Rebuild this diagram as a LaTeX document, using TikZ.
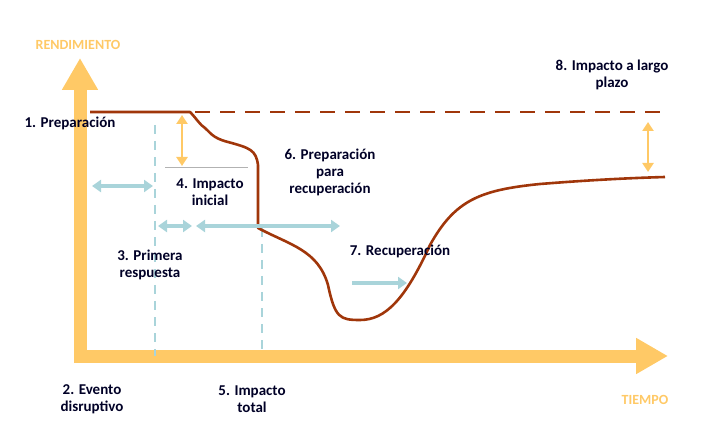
\documentclass[tikz,border=0pt]{standalone}
\usepackage{fontspec}
\setmainfont{Carlito}
\usetikzlibrary{arrows.meta}

\definecolor{axisorange}{HTML}{FFC966}
\definecolor{curvebrown}{HTML}{A0360A}
\definecolor{paleblue}{HTML}{A9D4DA}

\tikzset{
  label/.style={font=\bfseries\fontsize{15}{17}\selectfont, align=center, text=black!85!blue, inner sep=1pt},
  axislabel/.style={font=\bfseries\fontsize{14}{16}\selectfont, text=axisorange},
  phase/.style={paleblue, line width=4pt, {Triangle[length=9pt,width=12pt]}-{Triangle[length=9pt,width=12pt]}},
  phaseone/.style={paleblue, line width=4pt, -{Triangle[length=9pt,width=12pt]}},
  gap/.style={axisorange, line width=2.5pt, {Triangle[length=9pt,width=11pt]}-{Triangle[length=9pt,width=11pt]}},
  guide/.style={paleblue, line width=2pt, dash pattern=on 9pt off 7pt}
}

\begin{document}
\begin{tikzpicture}[x=1pt,y=-1pt]
\useasboundingbox (0,0) rectangle (714,443);
% axes
\coordinate (ytop) at (80,58);
\coordinate (xend) at (668,356);
\draw[axisorange, line width=13pt, -{Triangle[length=32pt,width=34pt]}] (80,363) -- (ytop);
\draw[axisorange, line width=13pt, -{Triangle[length=32pt,width=34pt]}] (74,356) -- (xend);
\node[axislabel] (rend) at (78,45) {RENDIMIENTO};
\node[axislabel] (tiempo) at (645,400) {TIEMPO};
% guides
\draw[guide] (155,125) -- (155,356);
\draw[guide] (262,228) -- (262,356);
% performance curve
\draw[curvebrown, line width=2.6pt, dash pattern=on 15pt off 10pt] (195,112) -- (665,112);
\draw[curvebrown, line width=2.6pt, line join=round] (90,112) -- (190,112)
  .. controls (196,118) and (200,125) .. (205,128)
  .. controls (210,132) and (212,138) .. (228,142)
  .. controls (250,148) and (256,150) .. (258,165)
  -- (258,228)
  .. controls (290,245) and (318,250) .. (328,285)
  .. controls (335,318) and (340,320) .. (360,320)
  .. controls (385,320) and (405,300) .. (430,245)
  .. controls (455,200) and (480,190) .. (540,184)
  .. controls (590,180) and (630,178) .. (665,177);
% gaps
\draw[black!30, line width=0.5pt] (165,167) -- (248,167);
\draw[gap] (182,115) -- (182,166);
\draw[gap] (648,122) -- (648,172);
% phase arrows
\draw[phase] (92,186) -- (153,186);
\draw[phase] (158,226) -- (192,226);
\draw[phase] (196,226) -- (340,226);
\draw[phaseone] (352,283) -- (407,283);
% labels
\node[label] (prep) at (70,123) {1. Preparación};
\node[label] (evento) at (92,399) {2. Evento\\disruptivo};
\node[label] (primera) at (150,265) {3. Primera\\respuesta};
\node[label] (inicial) at (210,192) {4. Impacto\\inicial};
\node[label] (total) at (252,399) {5. Impacto\\total};
\node[label] (preprec) at (330,172) {6. Preparación\\para\\recuperación};
\node[label] (recup) at (400,251) {7. Recuperación};
\node[label] (largo) at (612,75) {8. Impacto a largo\\plazo};
\end{tikzpicture}
\end{document}
